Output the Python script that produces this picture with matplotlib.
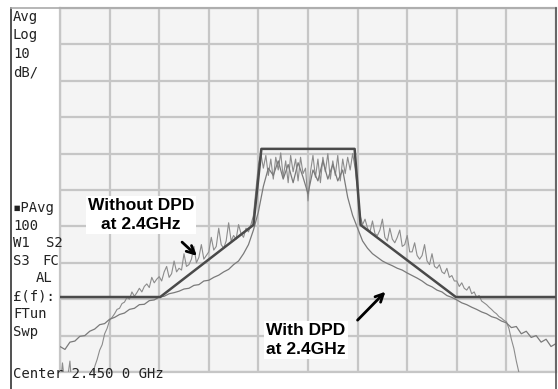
import matplotlib
matplotlib.use("Agg")
import matplotlib.pyplot as plt
from matplotlib.lines import Line2D
import numpy as np

# Screen is 10 x 10 divisions (10 dB/div); positions below are in divisions.
# Trace without DPD (noisy, spiky skirts), sampled every 0.05 div
U_X = np.round(np.arange(0, 10.001, 0.05), 2)
U_Y = [
    -0.5, 0.25, -0.4, -0.2, 0.3, -0.6, -1, -1, -1, -1,
    -1, -1, -0.6, -0.1, 0.15, 0.35, 0.6, 0.75, 1.05, 1.2,
    1.42, 1.5, 1.6, 1.72, 1.75, 1.88, 1.92, 2.05, 2.0, 2.2,
    2.08, 2.18, 2.3, 2.2, 2.35, 2.42, 2.32, 2.6, 2.45, 2.55,
    2.62, 2.5, 2.75, 2.9, 2.6, 2.7, 3.05, 2.75, 2.85, 2.8,
    3.25, 2.9, 2.95, 3.1, 3.45, 3.0, 3.15, 3.5, 3.1, 3.2,
    3.3, 3.7, 3.35, 3.45, 3.95, 3.5, 3.4, 3.6, 4.1, 3.6,
    3.75, 3.65, 4.05, 3.8, 3.7, 3.95, 3.85, 4.05, 4.3, 5.0,
    5.7, 6.0, 5.6, 5.95, 5.4, 5.85, 5.3, 5.9, 5.55, 6.02,
    5.35, 5.8, 5.2, 5.95, 5.5, 5.85, 5.25, 5.9, 5.45, 5.6,
    4.7, 5.5, 5.95, 5.35, 5.85, 5.2, 5.9, 5.5, 6.0, 5.3,
    5.8, 5.4, 5.95, 5.25, 5.85, 5.45, 5.9, 5.55, 6.0, 5.6,
    5.0, 4.3, 4.05, 4.2, 3.95, 3.85, 4.15, 3.8, 3.75, 3.9,
    4.2, 3.7, 3.6, 3.95, 3.65, 3.55, 3.7, 3.9, 3.45, 3.5,
    3.75, 3.3, 3.3, 3.55, 3.2, 3.1, 3.2, 3.5, 3.05, 2.95,
    3.25, 2.9, 2.85, 2.95, 2.75, 2.7, 2.85, 2.6, 2.65, 2.5,
    2.5, 2.35, 2.45, 2.3, 2.25, 2.35, 2.15, 2.2, 2.05, 2.1,
    1.95, 1.9, 1.85, 1.78, 1.72, 1.65, 1.6, 1.52, 1.48, 1.42,
    1.38, 1.2, 0.9, 0.65, 0.3, 0.0, -0.5, -1, -1, -1,
    -1, -1, -1, -1, -1, -1, -1, -1, -1, -1,
    -1,
]

# Trace with DPD (lower skirts), sampled every 0.1 div
L_X = np.round(np.arange(0, 10.001, 0.1), 1)
L_Y = [
    0.7, 0.62, 0.82, 0.85, 0.98, 1.0, 1.12, 1.18, 1.3, 1.33,
    1.45, 1.5, 1.58, 1.62, 1.72, 1.75, 1.85, 1.86, 1.96, 1.98,
    2.06, 2.08, 2.15, 2.18, 2.22, 2.28, 2.3, 2.38, 2.4, 2.5,
    2.52, 2.6, 2.66, 2.75, 2.82, 2.95, 3.05, 3.25, 3.5, 3.9,
    4.4, 5.1, 5.6, 5.4, 5.8, 5.3, 5.7, 5.2, 5.75, 5.35,
    4.9, 5.55, 5.25, 5.8, 5.3, 5.7, 5.25, 5.55, 4.8, 4.3,
    3.95, 3.6, 3.4, 3.25, 3.15, 3.05, 2.98, 2.92, 2.85, 2.8,
    2.72, 2.65, 2.58, 2.5, 2.4, 2.34, 2.25, 2.2, 2.1, 2.05,
    1.98, 1.9, 1.85, 1.78, 1.72, 1.65, 1.6, 1.52, 1.48, 1.4,
    1.35, 1.22, 1.25, 1.05, 1.12, 0.95, 1.0, 0.82, 0.9, 0.7,
    0.78,
]

# Max-hold style trace (flat channel, straight skirts, floor)
M_X = [0, 2.02, 3.9, 4.06, 5.94, 6.06, 7.98, 10]
M_Y = [2.06, 2.06, 4.04, 6.13, 6.13, 4.04, 2.06, 2.06]

PANEL_TOP = ["Avg", "Log", "10", "dB/"]
PANEL_TOP_BASE = [21, 39.5, 58, 76.5]
PANEL_LOW = [("▪PAvg", 13, 212), ("100", 13, 230), ("W1", 13, 247), ("S2", 46, 247),
             ("S3", 13, 265), ("FC", 42, 265), ("AL", 36, 282), ("£(f):", 13, 301),
             ("FTun", 13, 318), ("Swp", 13, 336), ("Center 2.450 0 GHz", 13, 378)]

W, H = 558, 389
GRID = "#c6c6c6"

fig = plt.figure(figsize=(W / 100, H / 100), dpi=100)
fig.patch.set_facecolor("white")
ax = fig.add_axes([60 / W, 1 - 372 / H, 496 / W, 364 / H])
ax.set_facecolor("#f4f4f4")
ax.set_xlim(0, 10)
ax.set_ylim(0, 10)
ax.set_xticks(range(11))
ax.set_yticks(range(11))
ax.tick_params(length=0, labelbottom=False, labelleft=False)
ax.grid(True, color=GRID, linewidth=1.6)
for s in ax.spines.values():
    s.set_color(GRID)
    s.set_linewidth(1.6)

ax.plot(U_X, U_Y, color="#8c8c8c", linewidth=0.8, zorder=3)
ax.plot(L_X, L_Y, color="#7a7a7a", linewidth=0.9, zorder=3)
ax.plot(M_X, M_Y, color="#4a4a4a", linewidth=1.8, zorder=4)

ax.annotate("Without DPD\nat 2.4GHz", xy=(1.63, 4.31), ha="center", va="center",
            fontsize=12.5, fontweight="bold", family="Liberation Sans",
            linespacing=1.3, zorder=6,
            bbox=dict(facecolor="white", edgecolor="none", pad=1.5))
ax.annotate("", xy=(2.8, 3.14), xytext=(2.42, 3.62),
            arrowprops=dict(arrowstyle="->", color="black", lw=2, mutation_scale=14),
            zorder=6)
ax.annotate("With DPD\nat 2.4GHz", xy=(4.96, 0.88), ha="center", va="center",
            fontsize=12.5, fontweight="bold", family="Liberation Sans",
            linespacing=1.3, zorder=6,
            bbox=dict(facecolor="white", edgecolor="none", pad=1.5))
ax.annotate("", xy=(6.6, 2.26), xytext=(5.96, 1.37),
            arrowprops=dict(arrowstyle="->", color="black", lw=2, mutation_scale=14),
            zorder=6)

# outer screen borders
fig.add_artist(Line2D([11 / W, 11 / W], [0, 1 - 8 / H], color="#333333", linewidth=1.2))
fig.add_artist(Line2D([11 / W, 556 / W], [1 - 8 / H, 1 - 8 / H], color="#aaaaaa", linewidth=1.2))
fig.add_artist(Line2D([556 / W, 556 / W], [0, 1 - 8 / H], color="#555555", linewidth=1.2))

mono = ["DejaVu Sans Mono", "DejaVu Sans"]
for label, base in zip(PANEL_TOP, PANEL_TOP_BASE):
    fig.text(13 / W, 1 - base / H, label, family=mono, fontsize=10, color="#222222",
             va="baseline", ha="left")
for label, x, base in PANEL_LOW:
    fig.text(x / W, 1 - base / H, label, family=mono, fontsize=10, color="#222222",
             va="baseline", ha="left")

fig.savefig("out.png", dpi=100)
